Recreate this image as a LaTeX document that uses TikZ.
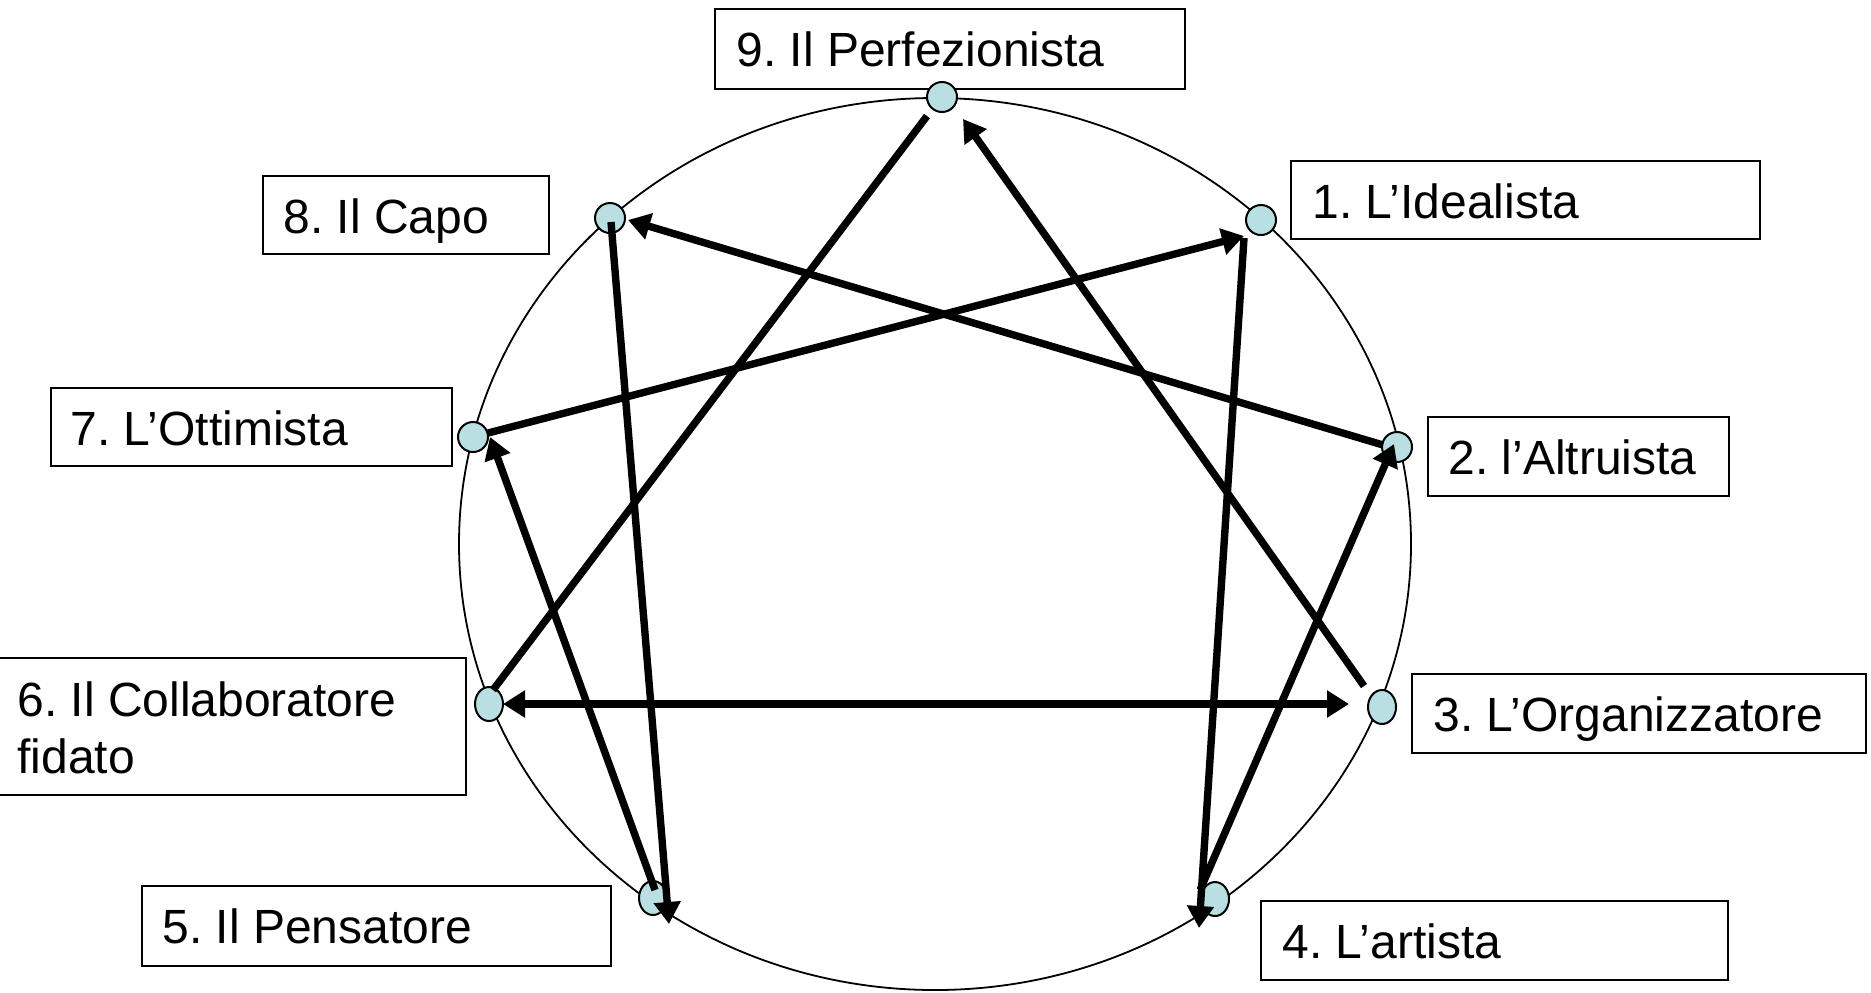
\documentclass[tikz,border=0pt]{standalone}
\usepackage{fontspec}
\setmainfont{Liberation Sans}
\frenchspacing
\usetikzlibrary{arrows.meta,calc,shapes.geometric}
\definecolor{dotfill}{RGB}{185,223,227}
\begin{document}
\begin{tikzpicture}[x=0.5pt,y=-0.5pt,
  lbox/.style={draw=black, line width=1pt, fill=white, rectangle, inner sep=0pt, anchor=north west},
  ltext/.style={anchor=base west, inner sep=0pt, font=\fontsize{24}{28.5}\selectfont},
  dot/.style={ellipse, draw=black, line width=1pt, fill=dotfill, inner sep=0pt, minimum width=15pt, minimum height=15pt},
  oval/.style={dot, minimum width=14pt, minimum height=17pt},
  link/.style={line width=3.7pt, line cap=butt},
  arr/.style={link, -{Triangle[length=11pt,width=13pt]}},
  arrs/.style={link, {Triangle[length=11pt,width=13pt]}-{Triangle[length=11pt,width=13pt]}},
]
\useasboundingbox (0,0) rectangle (1871,992);

% outer ring
\draw[line width=0.9pt] (935,544) ellipse [x radius=476, y radius=446];

% label boxes
\node[lbox, minimum width=235pt,   minimum height=40pt]   (b9) at (714,8)   {};
\node[lbox, minimum width=234.5pt, minimum height=39pt]   (b1) at (1290,160) {};
\node[lbox, minimum width=150.5pt, minimum height=39.5pt] (b2) at (1427,416) {};
\node[lbox, minimum width=227pt,   minimum height=39.5pt] (b3) at (1411,673) {};
\node[lbox, minimum width=233.5pt, minimum height=39.5pt] (b4) at (1260,900) {};
\node[lbox, minimum width=234.5pt, minimum height=40pt]   (b5) at (141,885)  {};
\node[lbox, minimum width=233.5pt, minimum height=68.5pt] (b6) at (-2,657)   {};
\node[lbox, minimum width=200.5pt, minimum height=39pt]   (b7) at (50,387)   {};
\node[lbox, minimum width=143pt,   minimum height=39pt]   (b8) at (262,175)  {};

% labels
\node[ltext] (t9) at (736,66)   {9. Il Perfezionista};
\node[ltext] (t1) at (1312,218) {1. L’Idealista};
\node[ltext] (t2) at (1448,474) {2. l’Altruista};
\node[ltext] (t3) at (1433,731) {3. L’Organizzatore};
\node[ltext] (t4) at (1282,958) {4. L’artista};
\node[ltext] (t5) at (162,943)  {5. Il Pensatore};
\node[ltext] (t6) at (17,716)   {6. Il Collaboratore};
\node[ltext] (t6b) at (17,773)  {fidato};
\node[ltext] (t7) at (70,445)   {7. L’Ottimista};
\node[ltext] (t8) at (283,233)  {8. Il Capo};

% points on the ring
\node[dot]  (p9) at (942,97)   {};
\node[dot]  (p1) at (1261,220) {};
\node[dot]  (p2) at (1397,447) {};
\node[oval] (p3) at (1382,707) {};
\node[oval] (p4) at (1215,899) {};
\node[oval] (p5) at (653,898)  {};
\node[oval] (p6) at (489,704)  {};
\node[dot]  (p7) at (473,437)  {};
\node[dot]  (p8) at (610,218)  {};

% connectors
\draw[link] ($(p9)+(-15,19)$) -- ($(p6)+(4,-14)$);
\draw[arr]  ($(p3)+(-18,-21)$) -- ($(p9)+(21,22)$);
\draw[arrs] ($(p6)+(14,0)$) -- ($(p3)+(-33,-3)$);
\draw[arr]  ($(p2)+(-14,-2)$) -- ($(p8)+(18,2)$);
\draw[arr]  ($(p8)+(1,4)$) -- ($(p5)+(16,26)$);
\draw[arr]  ($(p5)+(2,-8)$) -- ($(p7)+(17,0)$);
\draw[arr]  ($(p7)+(15,-4)$) -- ($(p1)+(-17,16)$);
\draw[arr]  ($(p1)+(-17,18)$) -- ($(p4)+(-16,29)$);
\draw[arr]  ($(p4)+(-15,-9)$) -- ($(p2)+(-3,-3)$);
\end{tikzpicture}
\end{document}
